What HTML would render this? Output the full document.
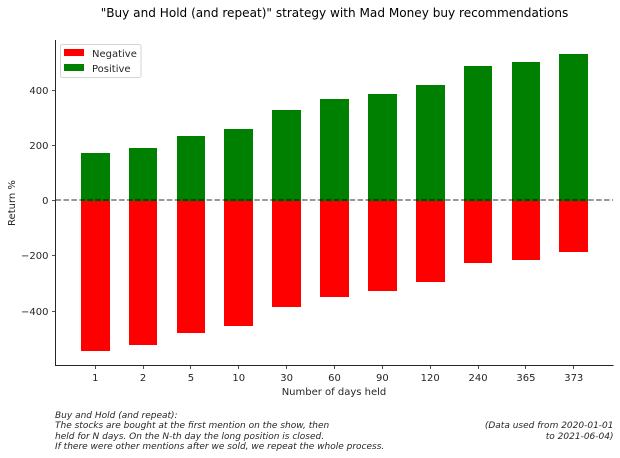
<!DOCTYPE html>
<html>
<head>
<meta charset="utf-8">
<style>
html,body{margin:0;padding:0;background:#fff;}
svg{display:block;}
text{font-family:"DejaVu Sans",sans-serif;fill:#262626;}
</style>
</head>
<body>
<svg id="chart" width="620" height="458" viewBox="0 0 620 458" xmlns="http://www.w3.org/2000/svg">
  <rect x="0" y="0" width="620" height="458" fill="#fff"/>
  <text x="334.5" y="17" font-size="12.08" text-anchor="middle" fill="#000" style="fill:#000">"Buy and Hold (and repeat)" strategy with Mad Money buy recommendations</text>
  <g id="bars"></g>
  <line x1="55.5" x2="613" y1="200" y2="200" stroke="#000" stroke-opacity="0.4" stroke-width="2" stroke-dasharray="5.55 2.4"/>
  <g id="axes"></g>
  <text x="334" y="395" font-size="10" text-anchor="middle">Number of days held</text>
  <text transform="translate(15,203) rotate(-90)" font-size="10" text-anchor="middle">Return %</text>
  <g>
    <rect x="60.5" y="44.5" width="80.5" height="33" rx="2" fill="#fff" stroke="#d5d5d5" stroke-width="1"/>
    <rect x="64" y="49" width="20" height="7" fill="#ff0000"/>
    <text x="92" y="57" font-size="10">Negative</text>
    <rect x="64" y="64" width="20" height="7" fill="#008000"/>
    <text x="92" y="72" font-size="10">Positive</text>
  </g>
  <g font-size="9" font-style="italic">
    <text x="55" y="418">Buy and Hold (and repeat):</text>
    <text x="55" y="428">The stocks are bought at the first mention on the show, then</text>
    <text x="55" y="439">held for N days. On the N-th day the long position is closed.</text>
    <text x="55" y="449">If there were other mentions after we sold, we repeat the whole process.</text>
  </g>
  <g font-size="9" font-style="italic" text-anchor="end">
    <text x="613.5" y="428">(Data used from 2020-01-01</text>
    <text x="613.5" y="439">to 2021-06-04)</text>
  </g>
</svg>
<script>
const categories = ["1","2","5","10","30","60","90","120","240","365","373"];
const positiveValues = [171,189,233,258,327,367,385,417,486,501,530];
const negativeValues = [-545,-524,-480,-455,-386,-350,-328,-296,-227,-216,-187];
const yTickValues = [-400,-200,0,200,400];

const NS = "http://www.w3.org/2000/svg";
const plotLeft = 55.5, plotRight = 613, plotTop = 40, plotBottom = 365.5;
const firstCenter = 95.25, step = 47.85, barWidth = 28.7;
const zeroY = 200.5, pxPerUnit = 0.27625;

function xScale(i) { return firstCenter + step * i; }
function yScale(v) { return zeroY - v * pxPerUnit; }
function make(tag, attrs, parent) {
  const el = document.createElementNS(NS, tag);
  for (const k in attrs) el.setAttribute(k, attrs[k]);
  parent.appendChild(el);
  return el;
}

const barsGroup = document.getElementById("bars");
const axesGroup = document.getElementById("axes");
const baseY = Math.round(zeroY);

categories.forEach(function (cat, i) {
  const left = Math.round(xScale(i) - barWidth / 2);
  const right = Math.round(xScale(i) + barWidth / 2);

  const negY = Math.round(yScale(negativeValues[i]));
  const neg = make("rect", {x: left, y: baseY, width: right - left, height: negY - baseY, fill: "#ff0000"}, barsGroup);
  
  

  const posY = Math.round(yScale(positiveValues[i]));
  const pos = make("rect", {x: left, y: posY, width: right - left, height: baseY - posY, fill: "#008000"}, barsGroup);
  
  

  const tx = Math.floor(xScale(i)) + 0.5;
  const tick = make("line", {x1: tx, x2: tx, y1: plotBottom, y2: plotBottom + 3.5, stroke: "#262626", "stroke-width": 0.8}, axesGroup);
  
  

  const label = make("text", {x: xScale(i), y: 381, "font-size": 10, "text-anchor": "middle"}, axesGroup);
  label.textContent = cat;
  
  
});

yTickValues.forEach(function (v) {
  const ty = Math.floor(yScale(v)) + 0.5;
  const tick = make("line", {x1: plotLeft - 3.5, x2: plotLeft, y1: ty, y2: ty, stroke: "#262626", "stroke-width": 0.8}, axesGroup);
  
  

  const label = make("text", {x: plotLeft - 7, y: ty + 3.5, "font-size": 10, "text-anchor": "end"}, axesGroup);
  label.textContent = String(v).replace("-", "\u2212");
  
  
});

const leftSpine = make("line", {x1: plotLeft, x2: plotLeft, y1: plotTop, y2: plotBottom + 0.5, stroke: "#262626", "stroke-width": 1}, axesGroup);



const bottomSpine = make("line", {x1: plotLeft, x2: plotRight + 0.5, y1: plotBottom, y2: plotBottom, stroke: "#262626", "stroke-width": 1}, axesGroup);


</script>
</body>
</html>
